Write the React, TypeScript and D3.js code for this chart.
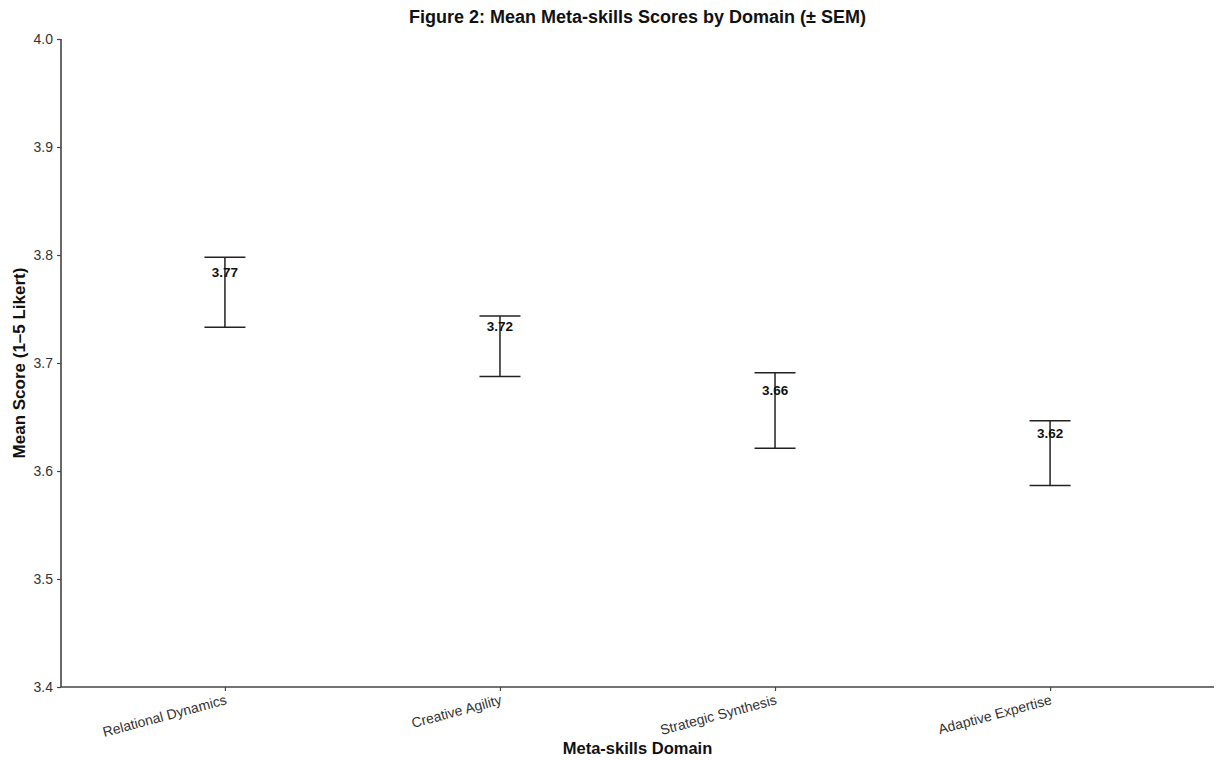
import * as d3 from 'd3';
import { useEffect, useRef } from 'react';

// domains and their means / SEM
const domains = ['Relational Dynamics', 'Creative Agility', 'Strategic Synthesis', 'Adaptive Expertise'];
const means = [3.7655, 3.7155, 3.656, 3.6165];
const sems = [0.0325, 0.028, 0.035, 0.030];
const yTicks = [3.4, 3.5, 3.6, 3.7, 3.8, 3.9, 4.0];

const width = 1222;
const height = 760;
const margin = { top: 39, right: 8, bottom: 73, left: 61 };

const font = '"Liberation Sans", Arial, Helvetica, sans-serif';

function App() {
    const ref = useRef<SVGSVGElement>(null);

    useEffect(() => {
        const svg = d3.select(ref.current);
        svg.selectAll('*').remove();

        const drawW = width - margin.left - margin.right;
        const drawH = height - margin.top - margin.bottom;

        const x = d3.scalePoint<string>().domain(domains).range([0, drawW]).padding(0.596);
        const y = d3.scaleLinear().domain([3.4, 4.0]).range([drawH, 0]);

        const g = svg.append('g').attr('transform', `translate(${margin.left},${margin.top})`);

        // y axis
        const yAxis = g.append('g')
            .call(d3.axisLeft(y).tickValues(yTicks).tickFormat(d3.format('.1f')).tickSize(4).tickPadding(4));
        // x axis
        const xAxis = g.append('g')
            .attr('transform', `translate(0,${drawH})`)
            .call(d3.axisBottom(x).tickSize(4).tickPadding(3));

        [yAxis, xAxis].forEach(a => {
            a.select('.domain').attr('stroke', '#444').attr('stroke-width', 1.6);
            a.selectAll('.tick line').attr('stroke', '#444').attr('stroke-width', 1.2);
            a.selectAll('.tick text').attr('fill', '#333').style('font-family', font).style('font-size', '14px');
        });
        // keep spine flat (no outer ticks)
        yAxis.select('.domain').attr('d', `M0,${drawH}V0`);
        xAxis.select('.domain').attr('d', `M0,0H${drawW}`);

        xAxis.selectAll('.tick text')
            .style('font-size', '14px')
            .attr('text-anchor', 'end')
            .attr('dy', null)
            .attr('y', 0)
            .attr('transform', 'translate(2,17) rotate(-15)');

        // error bars
        const capHalf = 20.5;
        const bars = g.append('g').selectAll('g').data(domains).join('g');
        bars.append('line')
            .attr('x1', d => x(d)!).attr('x2', d => x(d)!)
            .attr('y1', (d, i) => y(means[i] + sems[i]))
            .attr('y2', (d, i) => y(means[i] - sems[i]))
            .attr('stroke', '#222').attr('stroke-width', 1.5);
        [1, -1].forEach(s => {
            bars.append('line')
                .attr('x1', d => x(d)! - capHalf).attr('x2', d => x(d)! + capHalf)
                .attr('y1', (d, i) => y(means[i] + s * sems[i]))
                .attr('y2', (d, i) => y(means[i] + s * sems[i]))
                .attr('stroke', '#222').attr('stroke-width', 1.5);
        });
        bars.append('text')
            .attr('x', d => x(d)!)
            .attr('y', (d, i) => y(means[i]) - 20)
            .attr('dy', '0.35em')
            .attr('text-anchor', 'middle')
            .style('font-family', font).style('font-size', '13.5px').style('font-weight', 'bold')
            .attr('fill', '#111')
            .text((d, i) => means[i].toFixed(2));

        // titles
        svg.append('text')
            .attr('x', margin.left + drawW / 2).attr('y', 23)
            .attr('text-anchor', 'middle')
            .style('font-family', font).style('font-size', '18px').style('font-weight', 'bold')
            .attr('fill', '#111')
            .text('Figure 2: Mean Meta-skills Scores by Domain (± SEM)');
        svg.append('text')
            .attr('x', margin.left + drawW / 2).attr('y', 754)
            .attr('text-anchor', 'middle')
            .style('font-family', font).style('font-size', '16.5px').style('font-weight', 'bold')
            .attr('fill', '#111')
            .text('Meta-skills Domain');
        svg.append('text')
            .attr('transform', `translate(25,${margin.top + drawH / 2}) rotate(-90)`)
            .attr('text-anchor', 'middle')
            .style('font-family', font).style('font-size', '17px').style('font-weight', 'bold')
            .attr('fill', '#111')
            .text('Mean Score (1–5 Likert)');
    }, []);

    return (
        <svg ref={ref} width={width} height={height}
            style={{ position: 'absolute', left: 0, top: 0, background: '#fff' }} />
    );
}

export default App;
